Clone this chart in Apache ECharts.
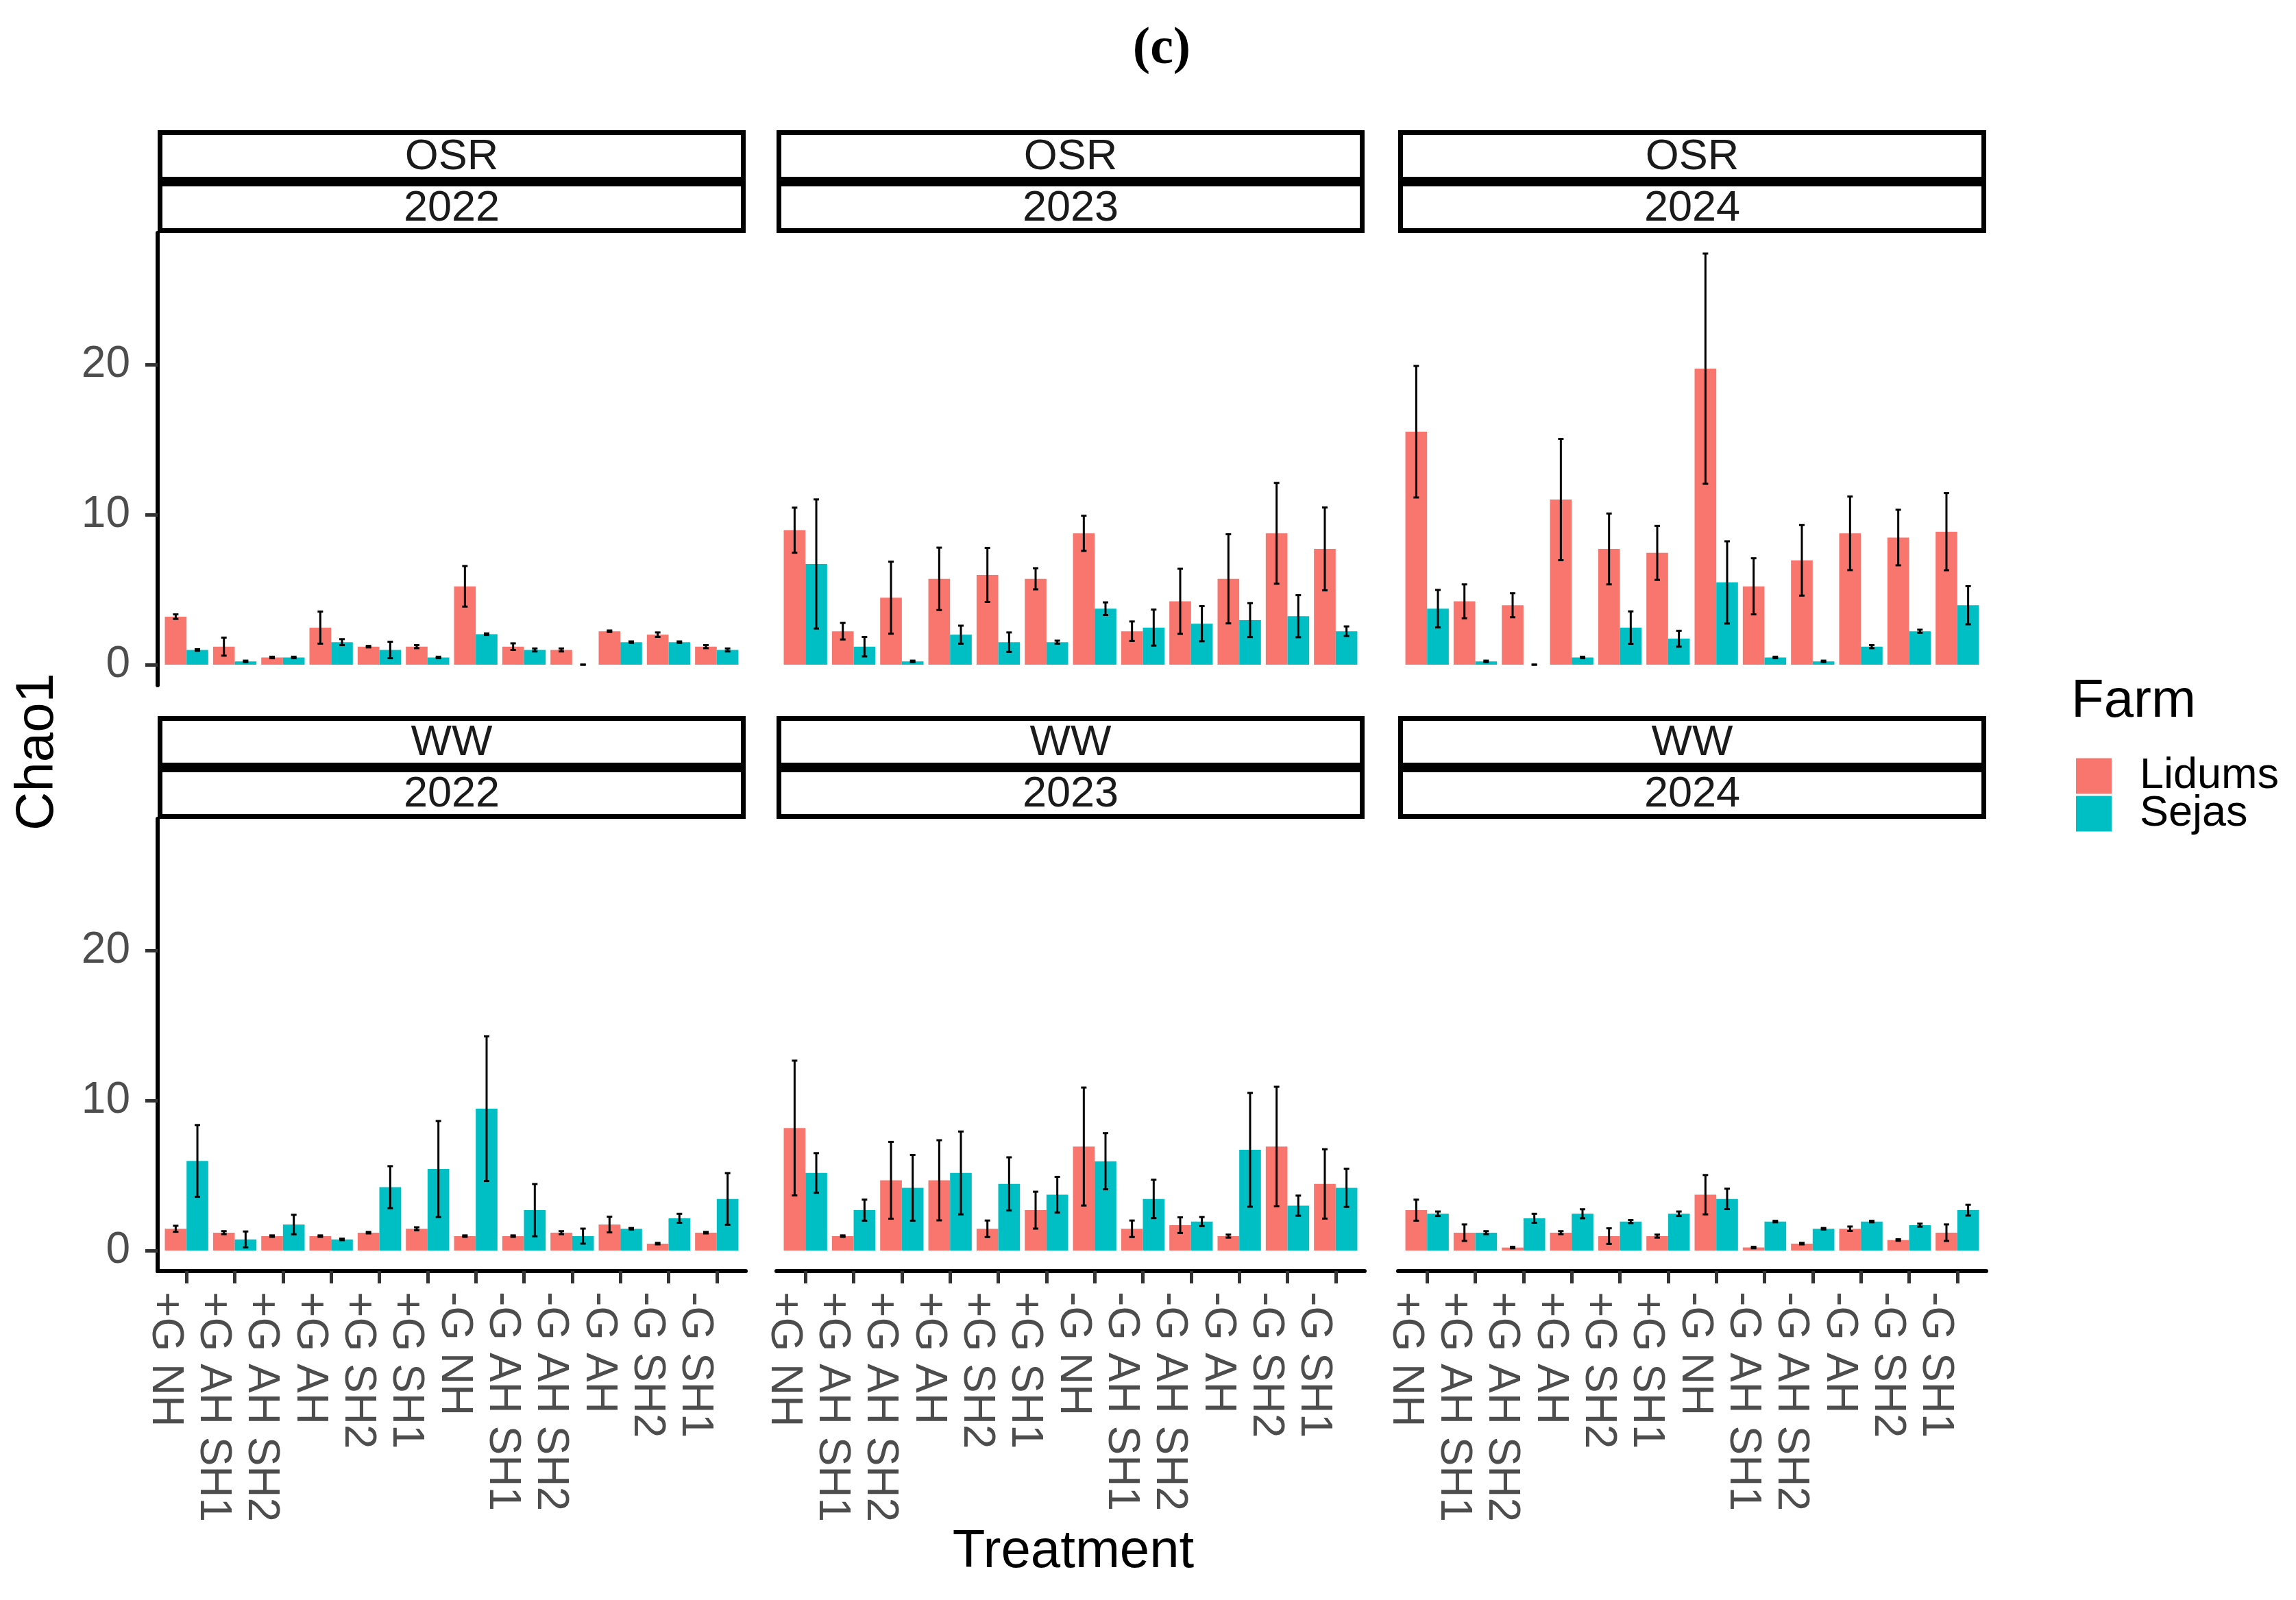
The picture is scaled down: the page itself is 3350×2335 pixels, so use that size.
<!DOCTYPE html>
<html>
<head>
<meta charset="utf-8">
<script src="https://cdn.jsdelivr.net/npm/echarts@6/dist/echarts.min.js"></script>
<style>
html,body{margin:0;padding:0;background:#fff;}
#chart{width:3350px;height:2335px;}
</style>
</head>
<body>
<div id="chart"></div>
<script>
// ---------------- data ----------------
const treatments = ["+G NH","+G AH SH1","+G AH SH2","+G AH","+G SH2","+G SH1","-G NH","-G AH SH1","-G AH SH2","-G AH","-G SH2","-G SH1"];
const crops = ["OSR","WW"];
const years = ["2022","2023","2024"];
const farms = ["Lidums","Sejas"];
const yTicks = [0,10,20];

const OSR_2022_Lidums    = [3.2,1.2,0.48,2.47,1.2,1.2,5.22,1.2,0.98,2.23,2.0,1.2];
const OSR_2022_Lidums_se = [0.15,0.6,0.05,1.07,0.05,0.1,1.35,0.22,0.1,0.05,0.15,0.1];
const OSR_2022_Sejas     = [0.98,0.22,0.48,1.5,0.98,0.48,2.03,0.98,0,1.5,1.5,0.98];
const OSR_2022_Sejas_se  = [0.05,0.05,0.05,0.2,0.55,0.05,0.05,0.1,0,0.05,0.05,0.1];

const OSR_2023_Lidums    = [8.96,2.23,4.46,5.72,5.98,5.72,8.75,2.23,4.22,5.72,8.75,7.71];
const OSR_2023_Lidums_se = [1.5,0.55,2.4,2.08,1.8,0.7,1.17,0.65,2.17,2.97,3.36,2.76];
const OSR_2023_Sejas     = [6.71,1.2,0.22,2.0,1.5,1.5,3.73,2.47,2.73,2.97,3.23,2.23];
const OSR_2023_Sejas_se  = [4.3,0.65,0.05,0.6,0.65,0.1,0.42,1.2,1.17,1.13,1.4,0.32];

const OSR_2024_Lidums    = [15.52,4.22,3.96,11.0,7.71,7.45,19.72,5.22,6.95,8.75,8.47,8.86];
const OSR_2024_Lidums_se = [4.38,1.13,0.8,4.04,2.36,1.8,7.67,1.87,2.35,2.45,1.85,2.57];
const OSR_2024_Sejas     = [3.73,0.22,0,0.48,2.47,1.73,5.48,0.48,0.22,1.2,2.23,3.96];
const OSR_2024_Sejas_se  = [1.25,0.05,0,0.05,1.08,0.53,2.74,0.05,0.05,0.1,0.1,1.27];

const WW_2022_Lidums     = [1.45,1.19,0.96,0.96,1.19,1.45,0.96,0.96,1.19,1.73,0.46,1.19];
const WW_2022_Lidums_se  = [0.2,0.1,0.05,0.05,0.05,0.1,0.05,0.05,0.1,0.52,0.05,0.05];
const WW_2022_Sejas      = [5.97,0.74,1.73,0.74,4.22,5.43,9.45,2.69,0.96,1.45,2.15,3.44];
const WW_2022_Sejas_se   = [2.39,0.53,0.65,0.05,1.4,3.2,4.82,1.74,0.5,0.05,0.3,1.72];

const WW_2023_Lidums     = [8.16,0.96,4.68,4.68,1.45,2.69,6.93,1.45,1.69,0.96,6.93,4.44];
const WW_2023_Lidums_se  = [4.49,0.05,2.56,2.67,0.55,1.23,3.93,0.55,0.52,0.1,3.98,2.31];
const WW_2023_Sejas      = [5.17,2.69,4.18,5.17,4.44,3.72,5.95,3.44,1.93,6.71,2.99,4.18];
const WW_2023_Sejas_se   = [1.32,0.7,2.19,2.76,1.77,1.19,1.87,1.28,0.3,3.79,0.67,1.27];

const WW_2024_Lidums     = [2.69,1.19,0.2,1.19,0.96,0.96,3.72,0.2,0.46,1.45,0.7,1.19];
const WW_2024_Lidums_se  = [0.7,0.55,0.05,0.1,0.52,0.1,1.31,0.05,0.05,0.15,0.05,0.55];
const WW_2024_Sejas      = [2.45,1.19,2.15,2.45,1.93,2.45,3.44,1.93,1.45,1.93,1.69,2.69];
const WW_2024_Sejas_se   = [0.15,0.1,0.3,0.3,0.1,0.15,0.68,0.05,0.05,0.05,0.1,0.36];

// ---------------- assemble ----------------
const panels = [
  {crop:"OSR", year:"2022", L:OSR_2022_Lidums, Le:OSR_2022_Lidums_se, S:OSR_2022_Sejas, Se:OSR_2022_Sejas_se},
  {crop:"OSR", year:"2023", L:OSR_2023_Lidums, Le:OSR_2023_Lidums_se, S:OSR_2023_Sejas, Se:OSR_2023_Sejas_se},
  {crop:"OSR", year:"2024", L:OSR_2024_Lidums, Le:OSR_2024_Lidums_se, S:OSR_2024_Sejas, Se:OSR_2024_Sejas_se},
  {crop:"WW",  year:"2022", L:WW_2022_Lidums,  Le:WW_2022_Lidums_se,  S:WW_2022_Sejas,  Se:WW_2022_Sejas_se},
  {crop:"WW",  year:"2023", L:WW_2023_Lidums,  Le:WW_2023_Lidums_se,  S:WW_2023_Sejas,  Se:WW_2023_Sejas_se},
  {crop:"WW",  year:"2024", L:WW_2024_Lidums,  Le:WW_2024_Lidums_se,  S:WW_2024_Sejas,  Se:WW_2024_Sejas_se}
];

const COLORS = {Lidums:"#F8766D", Sejas:"#00BFC4"};
const FONT = "'Liberation Sans', Arial, Helvetica, sans-serif";
const colLeft = [230, 1133, 2040];
const rowTop = [340, 1195];
const panelW = 858, panelH = 660;
const stripH = 75;

// y range like ggplot (5% expansion of data range incl. error bars)
let dataMax = 0;
panels.forEach(p => {
  p.L.forEach((v,i)=>{ dataMax = Math.max(dataMax, v + p.Le[i]); });
  p.S.forEach((v,i)=>{ dataMax = Math.max(dataMax, v + p.Se[i]); });
});
const yMin = -0.05 * dataMax, yMax = dataMax * 1.05;
const idx = treatments.map((_, i) => i);

function errRender(off){
  return function(params, api){
    const x = api.value(0), lo = api.value(1), hi = api.value(2);
    const band = api.size([1, 0])[0];
    const cx = api.coord([x, 0])[0] + off * band;
    const y1 = api.coord([x, lo])[1];
    const y2 = api.coord([x, hi])[1];
    const cap = 4;
    const st = {stroke:"#000", lineWidth:3};
    return {type:"group", children:[
      {type:"line", shape:{x1:cx, y1:y1, x2:cx, y2:y2}, style:st},
      {type:"line", shape:{x1:cx-cap, y1:y1, x2:cx+cap, y2:y1}, style:st},
      {type:"line", shape:{x1:cx-cap, y1:y2, x2:cx+cap, y2:y2}, style:st}
    ]};
  };
}

const grid = [], xAxis = [], yAxis = [], series = [], graphic = [];
panels.forEach((p, k) => {
  const r = Math.floor(k / 3), c = k % 3;
  const left = colLeft[c], top = rowTop[r];
  grid.push({left:left, top:top, width:panelW, height:panelH, containLabel:false});
  const bottomRow = r === 1;
  xAxis.push({
    gridIndex:k, type:"value", min:-0.6, max:11.6,
    axisLine:{show:bottomRow, onZero:false, lineStyle:{color:"#000", width:6}},
    axisTick:{show:bottomRow, customValues:idx, length:18, lineStyle:{color:"#333", width:5}},
    axisLabel:{show:bottomRow, customValues:idx, rotate:-90, margin:30, verticalAlign:"top",
      formatter:v => treatments[Math.round(v)], fontSize:64, color:"#4d4d4d", fontFamily:FONT},
    splitLine:{show:false}
  });
  const leftCol = c === 0;
  yAxis.push({
    gridIndex:k, type:"value", min:yMin, max:yMax,
    axisLine:{show:leftCol, onZero:false, lineStyle:{color:"#000", width:6}},
    axisTick:{show:leftCol, customValues:yTicks, length:18, lineStyle:{color:"#333", width:5}},
    axisLabel:{show:leftCol, customValues:yTicks, margin:40, fontSize:64, color:"#4d4d4d", fontFamily:FONT},
    splitLine:{show:false}
  });
  [["Lidums", p.L, p.Le, -0.225], ["Sejas", p.S, p.Se, 0.225]].forEach(([name, vals, errs, off]) => {
    series.push({
      type:"bar", name:name, xAxisIndex:k, yAxisIndex:k,
      data: vals.map((v,i)=>[i, v]),
      barGap:"0%", barCategoryGap:"10%",
      itemStyle:{color:COLORS[name]},
      emphasis:{disabled:true}, z:2
    });
    series.push({
      type:"custom", name:name + " SE", xAxisIndex:k, yAxisIndex:k,
      data: vals.map((v,i)=>[i, v - errs[i], v + errs[i]]),
      encode:{x:0, y:[1,2]},
      renderItem: errRender(off), z:5, silent:true
    });
  });
  // facet strips
  [p.crop, p.year].forEach((lab, j) => {
    const y0 = top - 2*stripH + j*stripH;
    graphic.push({type:"rect", shape:{x:left+3.5, y:y0+3.5, width:panelW-7, height:stripH-7},
      style:{fill:"#fff", stroke:"#000", lineWidth:7}, z:10});
    graphic.push({type:"text", x:left + panelW/2, y:y0 + stripH/2 + 2,
      style:{text:lab, fontSize:63, fontFamily:FONT, fill:"#1a1a1a", textAlign:"center", textVerticalAlign:"middle"}, z:11});
  });
});

graphic.push({type:"text", x:1695, y:72, style:{text:"(c)", fontSize:76, fontWeight:"bold",
  fontFamily:"'Liberation Serif', 'Times New Roman', serif", fill:"#000", textAlign:"center", textVerticalAlign:"middle"}});
graphic.push({type:"text", x:1566, y:2265, style:{text:"Treatment", fontSize:78, fontFamily:FONT, fill:"#000",
  textAlign:"center", textVerticalAlign:"middle"}});
graphic.push({type:"text", x:55, y:1097, rotation:Math.PI/2, style:{text:"Chao1", fontSize:78, fontFamily:FONT, fill:"#000",
  textAlign:"center", textVerticalAlign:"middle"}});
graphic.push({type:"text", x:3022, y:1024, style:{text:"Farm", fontSize:78, fontFamily:FONT, fill:"#000",
  textAlign:"left", textVerticalAlign:"middle"}});

const option = {
  animation:false,
  backgroundColor:"#fff",
  textStyle:{fontFamily:FONT},
  grid:grid, xAxis:xAxis, yAxis:yAxis, series:series, graphic:graphic,
  legend:{
    data:farms, orient:"vertical", left:3024, top:1096,
    itemWidth:52, itemHeight:52, itemGap:-8, icon:"rect",
    textStyle:{fontSize:63, color:"#000", fontFamily:FONT, padding:[0,0,0,36]},
    selectedMode:false
  }
};

const chart = echarts.init(document.getElementById("chart"), null, {renderer:"canvas"});
chart.setOption(option);
</script>
</body>
</html>
